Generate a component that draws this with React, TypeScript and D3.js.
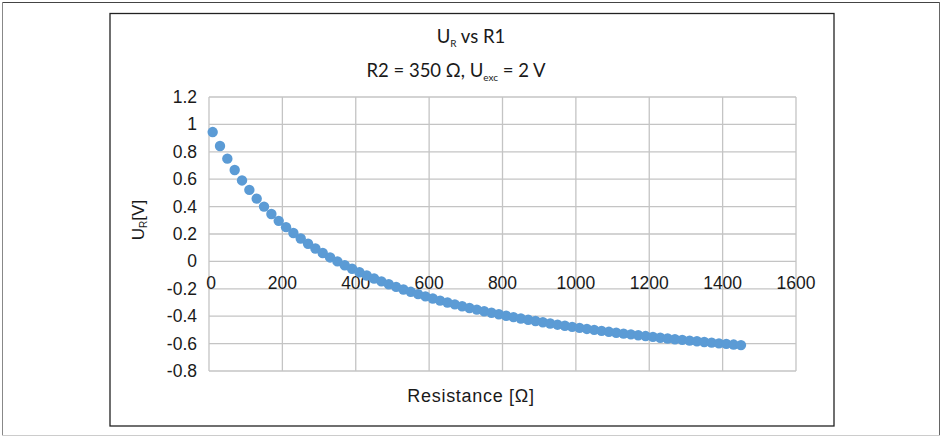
import React from "react";
import * as d3 from "d3";

const resistance: number[] = [
  10, 30, 50, 70, 90, 110, 130, 150, 170, 190, 210, 230, 250, 270, 290, 310, 330, 350,
  370, 390, 410, 430, 450, 470, 490, 510, 530, 550, 570, 590, 610, 630, 650, 670, 690,
  710, 730, 750, 770, 790, 810, 830, 850, 870, 890, 910, 930, 950, 970, 990, 1010, 1030,
  1050, 1070, 1090, 1110, 1130, 1150, 1170, 1190, 1210, 1230, 1250, 1270, 1290, 1310,
  1330, 1350, 1370, 1390, 1410, 1430, 1450,
];
const voltage: number[] = [
  0.944, 0.842, 0.75, 0.667, 0.591, 0.522, 0.458, 0.4, 0.346, 0.296, 0.25, 0.207, 0.167,
  0.129, 0.094, 0.061, 0.029, 0, -0.028, -0.054, -0.079, -0.103, -0.125, -0.146, -0.167,
  -0.186, -0.205, -0.222, -0.239, -0.255, -0.271, -0.286, -0.3, -0.314, -0.327, -0.34,
  -0.352, -0.364, -0.375, -0.386, -0.397, -0.407, -0.417, -0.426, -0.435, -0.444, -0.453,
  -0.462, -0.47, -0.478, -0.485, -0.493, -0.5, -0.507, -0.514, -0.521, -0.527, -0.533,
  -0.539, -0.545, -0.551, -0.557, -0.563, -0.568, -0.573, -0.578, -0.583, -0.588, -0.593,
  -0.598, -0.602, -0.607, -0.611,
];
const xTicks: number[] = [0, 200, 400, 600, 800, 1000, 1200, 1400, 1600];
const yTicks: number[] = [-0.8, -0.6, -0.4, -0.2, 0, 0.2, 0.4, 0.6, 0.8, 1, 1.2];

export default function App() {
  const W = 944;
  const H = 437;
  const left = 209, right = 796, top = 97, bottom = 371;
  const x = d3.scaleLinear().domain([0, 1600]).range([left, right]);
  const y = d3.scaleLinear().domain([-0.8, 1.2]).range([bottom, top]);
  const axisFont = "'Liberation Sans', Arial, sans-serif";
  const titleFont = "Lato, 'Open Sans', sans-serif";
  const fmt = (v: number) => String(Math.round(v * 10) / 10);

  return (
    <svg
      width={W}
      height={H}
      style={{ position: "absolute", left: 0, top: 0, background: "#fff" }}
    >
      {/* outer frame */}
      <line x1={2} y1={2.5} x2={939} y2={2.5} stroke="#444" strokeWidth={1} />
      <line x1={939.5} y1={2} x2={939.5} y2={436} stroke="#666" strokeWidth={1} />
      <line x1={2.5} y1={2} x2={2.5} y2={436} stroke="#888" strokeWidth={1} />
      <line x1={2} y1={435.5} x2={940} y2={435.5} stroke="#ccc" strokeWidth={1} />
      {/* chart border */}
      <rect x={110} y={13.5} width={724} height={412.5} fill="#fff" stroke="#222" strokeWidth={1.3} />

      {/* grid */}
      {xTicks.map((t) => (
        <line key={"gx" + t} x1={x(t)} x2={x(t)} y1={top} y2={bottom} stroke="#c4c4c4" strokeWidth={1.3} />
      ))}
      {yTicks.map((t) => (
        <line key={"gy" + t} x1={left} x2={right} y1={y(t)} y2={y(t)} stroke="#c4c4c4" strokeWidth={1.3} />
      ))}

      {/* y tick labels */}
      {yTicks.map((t) => (
        <text
          key={"ty" + t}
          x={197}
          y={y(t) + 6}
          textAnchor="end"
          fontFamily={axisFont}
          fontSize={17.5}
          fill="#1a1a1a"
        >
          {fmt(t)}
        </text>
      ))}
      {/* x tick labels at zero crossing */}
      {xTicks.map((t) => (
        <text
          key={"tx" + t}
          x={x(t) + (t === 0 ? 2 : 0)}
          y={y(0) + 28}
          textAnchor="middle"
          fontFamily={axisFont}
          fontSize={17.5}
          fill="#1a1a1a"
        >
          {t}
        </text>
      ))}

      {/* points */}
      {resistance.map((r, i) => (
        <circle key={"p" + i} cx={x(r)} cy={y(voltage[i])} r={5.2} fill="#5b9bd5" />
      ))}

      {/* titles */}
      <text x={471} y={43} textAnchor="middle" fontFamily={titleFont} fontSize={18.5} fill="#1a1a1a">
        <tspan>U</tspan>
        <tspan fontSize={10} dy={4}>R</tspan>
        <tspan dy={-4}> vs R1</tspan>
      </text>
      <text x={456} y={77} textAnchor="middle" fontFamily={titleFont} fontSize={18.5} fill="#1a1a1a">
        <tspan>R2 = 350 Ω, U</tspan>
        <tspan fontSize={10} dy={4}>exc</tspan>
        <tspan dy={-4}> = 2 V</tspan>
      </text>

      {/* axis titles */}
      <text
        transform={`translate(143.5, 220) rotate(-90)`}
        textAnchor="middle"
        fontFamily={axisFont}
        fontSize={17}
        fill="#1a1a1a"
      >
        <tspan>U</tspan>
        <tspan fontSize={10} dy={3}>R</tspan>
        <tspan dy={-3}>[V]</tspan>
      </text>
      <text
        x={471}
        y={402}
        textAnchor="middle"
        fontFamily={axisFont}
        fontSize={18}
        letterSpacing={0.7}
        fill="#1a1a1a"
      >
        Resistance [Ω]
      </text>
    </svg>
  );
}
